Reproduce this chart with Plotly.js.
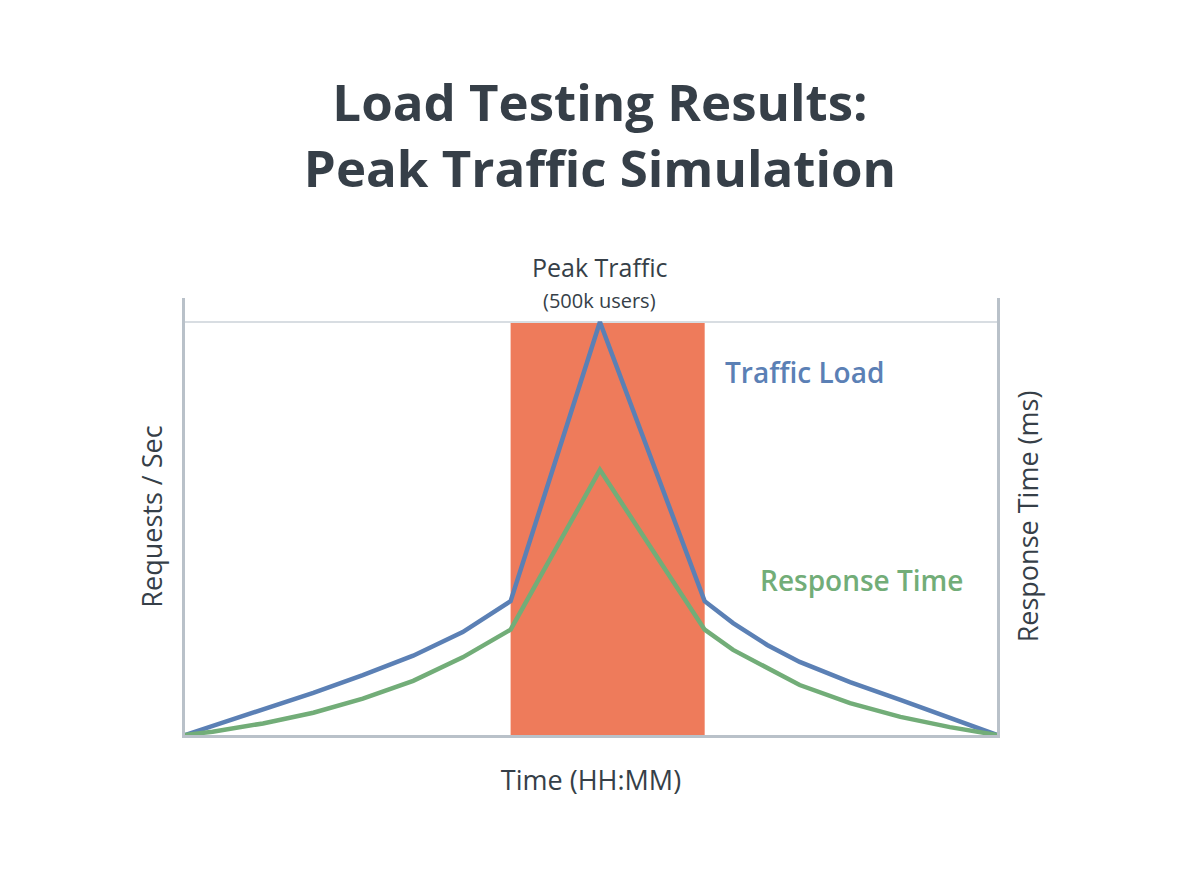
<!DOCTYPE html>
<html><head><meta charset="utf-8">
<script src="https://cdn.plot.ly/plotly-3.0.1.min.js"></script>
<style>html,body{margin:0;padding:0;background:#fff;}#chart{width:1200px;height:896px;}</style>
</head><body><div id="chart"></div>
<script>
// Time positions (% of test window)
const timePoints = [0, 3.4, 9.6, 15.8, 21.9, 28.1, 34.2, 40.1, 51.1, 64.0, 67.5, 71.7, 75.7, 81.9, 88.1, 94.2, 100];
// Traffic load (requests/sec, % of peak)
const trafficLoad = [0, 2.2, 6.1, 10.2, 14.5, 19.2, 24.9, 32.4, 100, 32.4, 27.1, 21.8, 17.7, 12.8, 8.5, 4.2, 0];
// Response time (ms, relative)
const responseTime = [0, 0.8, 2.8, 5.4, 8.8, 13.1, 18.8, 25.5, 64.2, 25.5, 20.6, 16.2, 12.1, 7.7, 4.4, 1.9, 0];
// Peak window
const peakWindow = [40.1, 64.0];
const peakLevel = 100;

const font = "'Open Sans', 'Noto Sans', sans-serif";
const dark = '#363f48';
const blue = '#5b80b5';
const green = '#72ad78';

const traces = [
  {x: timePoints, y: trafficLoad, type: 'scatter', mode: 'lines', name: 'Traffic Load',
   line: {color: blue, width: 4.5}, yaxis: 'y'},
  {x: timePoints, y: responseTime, type: 'scatter', mode: 'lines', name: 'Response Time',
   line: {color: green, width: 4.5}, yaxis: 'y2'}
];

const yr = [0, 105.8];
const layout = {
  width: 1200, height: 896,
  margin: {l: 185, r: 203, t: 298, b: 161},
  paper_bgcolor: '#fff', plot_bgcolor: '#fff',
  showlegend: false,
  title: {text: 'Load Testing Results:<br>Peak Traffic Simulation', x: 0.5, xanchor: 'center',
          yref: 'container', y: 0.865, yanchor: 'top',
          font: {family: font, size: 51, color: dark, weight: 700}},
  xaxis: {range: [0, 100], showgrid: false, zeroline: false, showticklabels: false, ticks: '',
          showline: true, linecolor: '#b9c1c9', linewidth: 3,
          title: {text: 'Time (HH:MM)', standoff: 35, font: {family: font, size: 27, color: dark}}},
  yaxis: {range: yr, showgrid: true, gridcolor: '#d8dde2', gridwidth: 1.5, tickvals: [peakLevel],
          zeroline: false, showticklabels: false, ticks: '',
          showline: true, linecolor: '#b9c1c9', linewidth: 3,
          title: {text: 'Requests / Sec', standoff: 12, font: {family: font, size: 27, color: dark}}},
  yaxis2: {range: yr, overlaying: 'y', side: 'right', showgrid: false, zeroline: false,
           showticklabels: false, ticks: '', showline: true, linecolor: '#b9c1c9', linewidth: 3,
           title: {text: 'Response Time (ms)', standoff: 21, font: {family: font, size: 27, color: dark}}},
  shapes: [
    {type: 'rect', xref: 'x', yref: 'y', x0: peakWindow[0], x1: peakWindow[1], y0: 0, y1: peakLevel,
     fillcolor: '#ee7b5b', line: {width: 0}, layer: 'below'}
  ],
  annotations: [
    {text: 'Peak Traffic', xref: 'x', yref: 'paper', x: 51.1, y: 1.0, yanchor: 'middle', yshift: 31, showarrow: false,
     font: {family: font, size: 25, color: dark}},
    {text: '(500k users)', xref: 'x', yref: 'paper', x: 51.1, y: 1.0, yanchor: 'middle', yshift: -2, showarrow: false,
     font: {family: font, size: 20, color: dark}},
    {text: 'Traffic Load', xref: 'x', yref: 'y', x: 66.3, y: 87.9, xanchor: 'left', yanchor: 'middle', showarrow: false,
     font: {family: font, size: 28, color: blue, weight: 600}},
    {text: 'Response Time', xref: 'x', yref: 'y', x: 70.6, y: 37.5, xanchor: 'left', yanchor: 'middle', showarrow: false,
     font: {family: font, size: 28, color: green, weight: 600}}
  ]
};

Plotly.newPlot('chart', traces, layout, {staticPlot: true, displayModeBar: false});
</script></body></html>
